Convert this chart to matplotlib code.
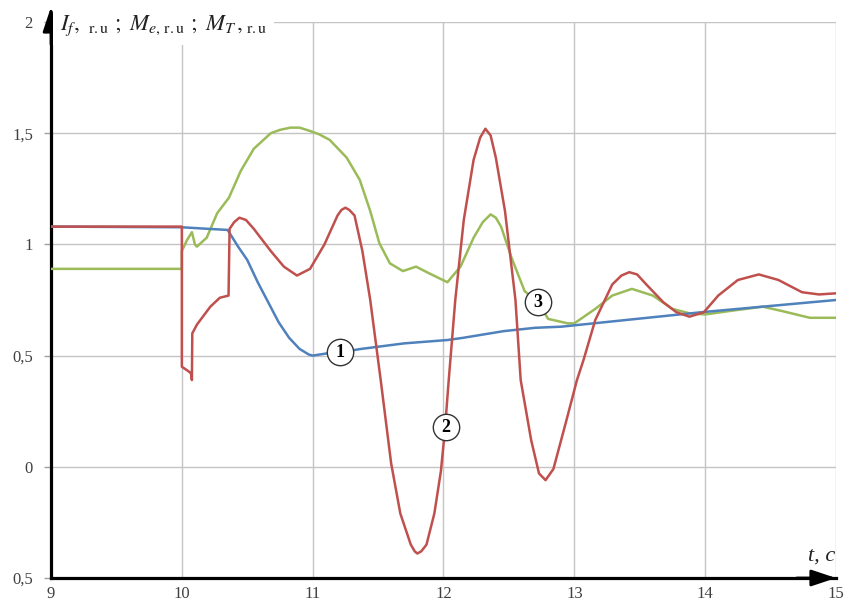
import matplotlib
matplotlib.use('Agg')
import matplotlib.pyplot as plt

plt.rcParams['font.family'] = ['Liberation Serif', 'DejaVu Serif']
plt.rcParams['mathtext.fontset'] = 'stix'

# curve 1 - excitation current I_f (blue)
t_if = [9.0, 10.0, 10.2, 10.35, 10.43, 10.5, 10.58, 10.66, 10.74, 10.82, 10.9,
        10.97, 11.0, 11.11, 11.21, 11.37, 11.7, 12.03, 12.15, 12.46, 12.7, 12.9,
        13.97, 15.0]
y_if = [1.08, 1.077, 1.07, 1.065, 0.99, 0.93, 0.83, 0.74, 0.65, 0.58, 0.53,
        0.505, 0.50, 0.51, 0.515, 0.53, 0.555, 0.57, 0.58, 0.61, 0.625, 0.63,
        0.695, 0.75]

# curve 2 - electromagnetic torque M_e (red)
t_me = [9.0, 10.0, 10.0, 10.05, 10.07, 10.077, 10.08, 10.116, 10.218, 10.29,
        10.357, 10.365, 10.40, 10.44, 10.49, 10.55, 10.68, 10.78, 10.88, 10.98,
        11.09, 11.19, 11.22, 11.25, 11.28, 11.32, 11.38, 11.44, 11.48, 11.52,
        11.60, 11.67, 11.75, 11.78, 11.80, 11.83, 11.87, 11.93, 11.98, 12.01,
        12.04, 12.09, 12.155, 12.23, 12.28, 12.32, 12.36, 12.40, 12.47, 12.52,
        12.55, 12.59, 12.67, 12.73, 12.78, 12.84, 12.94, 13.02, 13.07, 13.16,
        13.29, 13.36, 13.42, 13.48, 13.55, 13.68, 13.78, 13.88, 13.99, 14.1,
        14.25, 14.41, 14.56, 14.74, 14.87, 15.0]
y_me = [1.08, 1.08, 0.45, 0.43, 0.42, 0.39, 0.60, 0.64, 0.72, 0.76,
        0.77, 1.07, 1.10, 1.12, 1.11, 1.07, 0.97, 0.90, 0.86, 0.89,
        1.0, 1.13, 1.155, 1.165, 1.155, 1.13, 0.97, 0.75, 0.57, 0.39,
        0.015, -0.21, -0.35, -0.38, -0.39, -0.38, -0.35, -0.21, -0.02, 0.16,
        0.39, 0.75, 1.11, 1.38, 1.48, 1.52, 1.49, 1.39, 1.15, 0.90,
        0.75, 0.39, 0.12, -0.03, -0.06, -0.01, 0.21, 0.39, 0.48, 0.66,
        0.82, 0.86, 0.875, 0.865, 0.82, 0.74, 0.695, 0.675, 0.695, 0.77,
        0.84, 0.865, 0.84, 0.785, 0.775, 0.78]

# curve 3 - turbine torque M_T (green)
t_mt = [9.0, 10.0, 10.0, 10.04, 10.077, 10.1, 10.115, 10.19, 10.27, 10.36,
        10.45, 10.55, 10.68, 10.75, 10.83, 10.9, 10.98, 11.05, 11.13, 11.26,
        11.36, 11.44, 11.51, 11.59, 11.69, 11.79, 11.89, 12.03, 12.13, 12.23,
        12.30, 12.36, 12.40, 12.44, 12.52, 12.62, 12.72, 12.80, 12.95, 13.0,
        13.16, 13.29, 13.44, 13.6, 13.75, 13.88, 14.0, 14.18, 14.44, 14.59,
        14.8, 15.0]
y_mt = [0.89, 0.89, 0.97, 1.02, 1.055, 1.0, 0.99, 1.03, 1.14, 1.21,
        1.33, 1.43, 1.50, 1.515, 1.525, 1.525, 1.51, 1.495, 1.47, 1.39,
        1.29, 1.15, 1.005, 0.915, 0.88, 0.90, 0.87, 0.83, 0.90, 1.03,
        1.10, 1.135, 1.12, 1.08, 0.94, 0.79, 0.74, 0.665, 0.645, 0.645,
        0.71, 0.77, 0.80, 0.77, 0.71, 0.69, 0.685, 0.70, 0.72, 0.70,
        0.67, 0.67]

mark_t = [11.21, 12.02, 12.72]
mark_y = [0.515, 0.177, 0.74]
mark_txt = ['1', '2', '3']

xticks = [9, 10, 11, 12, 13, 14, 15]
yticks = [-0.5, 0, 0.5, 1, 1.5, 2]
ylabels = ['0,5', '0', '0,5', '1', '1,5', '2']

fig = plt.figure(figsize=(8.46, 6.10), dpi=100)
ax = fig.add_axes([51/846, 32/610, 785/846, 556/610])

ax.plot(t_mt, y_mt, color='#9BBB59', lw=1.8, zorder=3)
ax.plot(t_if, y_if, color='#4F81BD', lw=1.8, zorder=3)
ax.plot(t_me, y_me, color='#C0504D', lw=1.8, zorder=3)

ax.plot(mark_t, mark_y, 'o', ms=19, mfc='white', mec='#333333', mew=1.0,
        ls='none', zorder=5)
for x, y, s in zip(mark_t, mark_y, mark_txt):
    ax.text(x, y, s, ha='center', va='center', fontsize=13,
            fontweight='bold', zorder=6)

ax.set_xlim(9, 15)
ax.set_ylim(-0.5, 2)
ax.set_xticks(xticks)
ax.set_xticklabels([str(v) for v in xticks])
ax.set_yticks(yticks)
ax.set_yticklabels(ylabels)
ax.grid(True, color='#c4c4c4', lw=1.0)
ax.set_axisbelow(True)

for s in ['top', 'right']:
    ax.spines[s].set_visible(False)
for s in ['left', 'bottom']:
    ax.spines[s].set_linewidth(2.3)
    ax.spines[s].set_color('black')

ax.tick_params(axis='y', direction='out', length=5, width=1,
               color='#a0a0a0', pad=8, labelsize=12, labelcolor='#404040')
ax.tick_params(axis='x', length=0, pad=6, labelsize=12,
               labelcolor='#404040')

# arrow heads on axes
ax.annotate('', xy=(0, 1.027), xytext=(0, 0.96), xycoords='axes fraction',
            arrowprops=dict(arrowstyle='-|>,head_length=1.5,head_width=0.5',
                            color='black', lw=2, shrinkA=0, shrinkB=0),
            annotation_clip=False)
ax.annotate('', xy=(1.0, 0), xytext=(0.95, 0), xycoords='axes fraction',
            arrowprops=dict(arrowstyle='-|>,head_length=1.5,head_width=0.5',
                            color='black', lw=2, shrinkA=0, shrinkB=0),
            annotation_clip=False)

fig.text(835/846, (610-556)/610, 't, c', ha='right', va='center',
         fontsize=16, fontstyle='italic', color='#222222')

label = (r'$I_f,\ {}_{\mathrm{r.u}}\ ;\ M_{e,\,\mathrm{r.u}}\ ;\ '
         r'M_{T}\,,{}_{\mathrm{r.u}}$')
fig.text(60/846, (610-26)/610, label, ha='left', va='center', fontsize=16.5,
         color='#222222',
         bbox=dict(boxstyle='square,pad=0.3', fc='white', ec='none'))

fig.savefig('out.png', dpi=100)
